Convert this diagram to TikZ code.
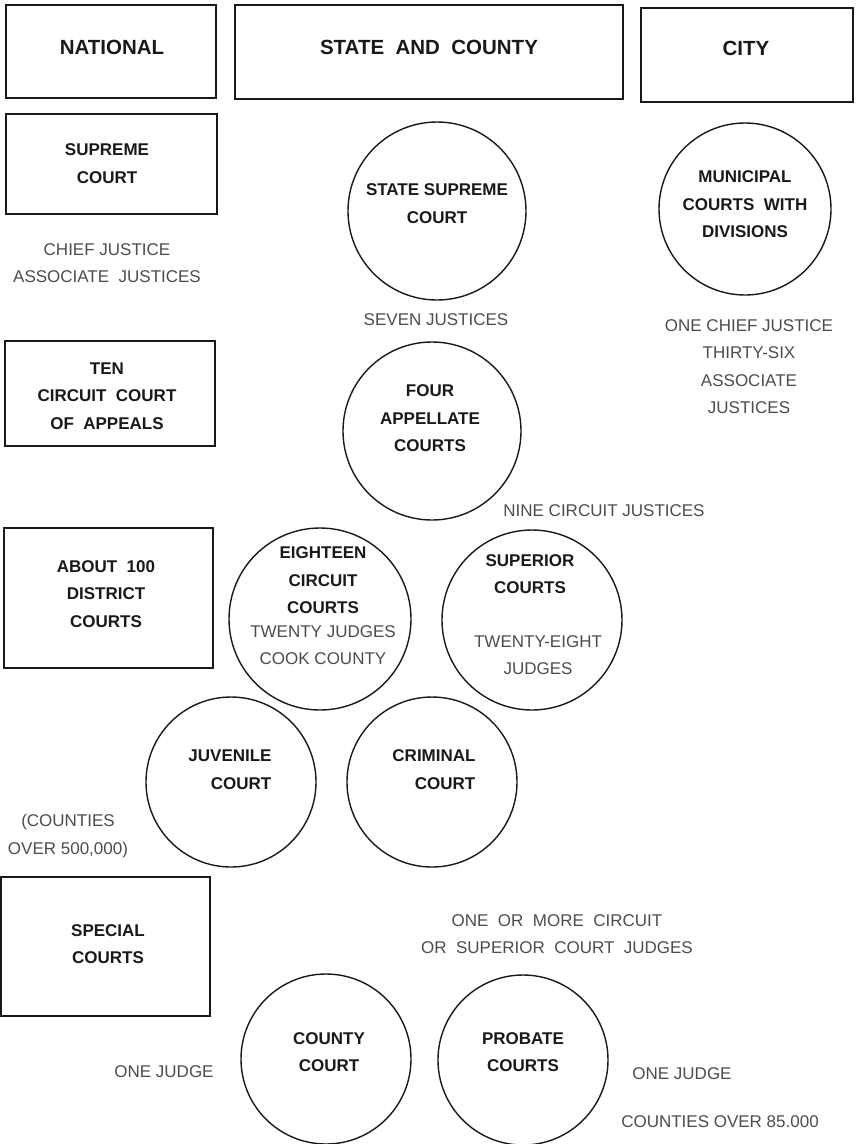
\documentclass[tikz,border=0pt]{standalone}
\usepackage{fontspec}
\setmainfont{Liberation Sans}
\begin{document}
\begin{tikzpicture}[x=1pt,y=-1pt,
  box/.style={draw=black!90, line width=1.6pt, inner sep=0pt, rectangle},
  ring/.style={draw=black!90, line width=1.4pt, circle, inner sep=0pt},
  head/.style={font=\fontsize{20.5}{24}\selectfont\bfseries, text=black!90, inner sep=0pt},
  lab/.style={align=center, font=\fontsize{17}{27.5}\selectfont\bfseries, text=black!90, inner sep=0pt},
  note/.style={align=center, font=\fontsize{17}{27.5}\selectfont, text=black!70, inner sep=0pt}]
\useasboundingbox (0,0) rectangle (856,1144);
% header boxes
\node[box, minimum width=210, minimum height=93] (nat) at (111,51.5) {};
\node[box, minimum width=388, minimum height=94] (sac) at (429,52) {};
\node[box, minimum width=212, minimum height=94] (city) at (747,55) {};
\node[head] (natT) at (112,47) {NATIONAL};
\node[head] (sacT) at (429,47) {STATE\ \ AND\ \ COUNTY};
\node[head] (cityT) at (746,48) {CITY};
% national column
\node[box, minimum width=211, minimum height=100] (sup) at (111.5,164) {};
\node[lab] (supT) at (107,163.5) {SUPREME\\COURT};
\node[note] (supN) at (107,263) {CHIEF JUSTICE\\ASSOCIATE\ \ JUSTICES};
\node[box, minimum width=210, minimum height=105] (ten) at (110,393.5) {};
\node[lab] (tenT) at (107,396) {TEN\\CIRCUIT\ \ COURT\\OF\ \ APPEALS};
\node[box, minimum width=209, minimum height=140] (dist) at (108.5,598) {};
\node[lab] (distT) at (106,594) {ABOUT\ \ 100\\DISTRICT\\COURTS};
\node[box, minimum width=209, minimum height=139] (spec) at (105.5,946.5) {};
\node[lab] (specT) at (108,944) {SPECIAL\\COURTS};
\node[note] (juvN) at (68,836) {(COUNTIES\\OVER 500,000)};
% state column
\node[ring, minimum size=178] (ssc) at (437,211) {};
\node[lab] (sscT) at (437,203.5) {STATE SUPREME\\COURT};
\node[note] (sscN) at (436,320) {SEVEN JUSTICES};
\node[ring, minimum size=178] (app) at (432,431) {};
\node[lab] (appT) at (430,418.5) {FOUR\\APPELLATE\\COURTS};
\node[note] (appN) at (604,511) {NINE CIRCUIT JUSTICES};
\node[ring, minimum size=182] (eig) at (320,619) {};
\node[lab] (eigT) at (323,580.5) {EIGHTEEN\\CIRCUIT\\COURTS};
\node[note] (eigN) at (323,645) {TWENTY JUDGES\\COOK COUNTY};
\node[ring, minimum size=180] (spr) at (532,620) {};
\node[lab] (sprT) at (530,574) {SUPERIOR\\COURTS};
\node[note] (sprN) at (538,655) {TWENTY-EIGHT\\JUDGES};
\node[ring, minimum size=170] (juv) at (231,782) {};
\node[lab] (juvT1) at (230,756) {JUVENILE};
\node[lab] (juvT2) at (241,784) {COURT};
\node[ring, minimum size=170] (crim) at (432,782) {};
\node[lab] (crimT1) at (434,756) {CRIMINAL};
\node[lab] (crimT2) at (445,784) {COURT};
\node[note] (speN) at (557,934) {ONE\ \ OR\ \ MORE\ \ CIRCUIT\\OR\ \ SUPERIOR\ \ COURT\ \ JUDGES};
\node[ring, minimum size=170] (cty) at (326,1059) {};
\node[lab] (ctyT) at (329,1052) {COUNTY\\COURT};
\node[note] (ctyN) at (164,1072) {ONE JUDGE};
\node[ring, minimum size=170] (prob) at (523,1060) {};
\node[lab] (probT) at (523,1052) {PROBATE\\COURTS};
\node[note] (probN) at (682,1074) {ONE JUDGE};
\node[note] (probN2) at (720,1122) {COUNTIES OVER 85.000};
% city column
\node[ring, minimum size=172] (mun) at (745,209) {};
\node[lab] (munT) at (745,204.5) {MUNICIPAL\\COURTS\ \ WITH\\DIVISIONS};
\node[note] (munN) at (749,366.5) {ONE CHIEF JUSTICE\\THIRTY-SIX\\ASSOCIATE\\JUSTICES};
\end{tikzpicture}
\end{document}
